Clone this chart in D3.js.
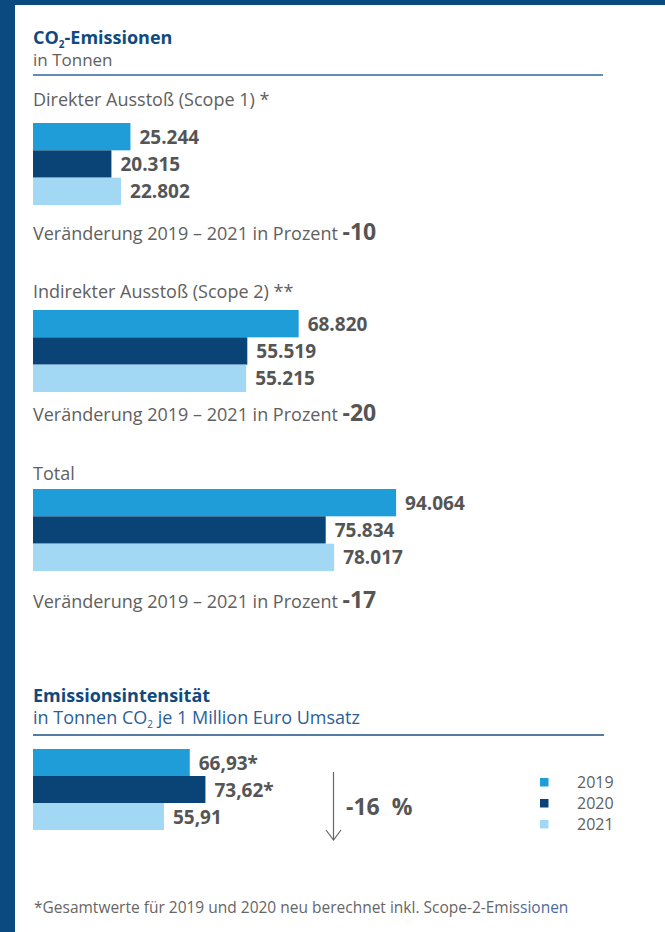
<!DOCTYPE html>
<html>
<head>
<meta charset="utf-8">
<script src="https://cdn.jsdelivr.net/npm/d3@7"></script>
<style>
  html, body { margin: 0; padding: 0; background: #fff; }
  svg { display: block; font-family: "Open Sans", "Noto Sans", sans-serif; }
  .head { font-size: 18px; fill: #606060; }
  .value { font-size: 19px; font-weight: 700; fill: #555; }
  .title { font-size: 18px; font-weight: 700; fill: #0f4a7e; }
</style>
</head>
<body>
<svg width="665" height="932"></svg>
<script>
// data
const years = ["2019", "2020", "2021"];
const colors = ["#1e9dd8", "#0a4477", "#a3d8f5"];
const groupNames = ["Direkter Ausstoß (Scope 1) *", "Indirekter Ausstoß (Scope 2) **", "Total"];
const scope1 = [25244, 20315, 22802];
const scope2 = [68820, 55519, 55215];
const total = [94064, 75834, 78017];
const changePct = [-10, -20, -17];
const intensity = [66.93, 73.62, 55.91];
const intensityMark = ["*", "*", ""];
const intensityChange = -16;

const svg = d3.select("svg"),
  width = +svg.attr("width"),
  height = +svg.attr("height"),
  left = 33;

const de = d3.formatLocale({ decimal: ",", thousands: ".", grouping: [3], currency: ["", " €"] });
const fmtInt = de.format(",d");
const fmtDec = de.format(",.2f");

// frame
svg.append("rect").attr("x", 0).attr("y", 0).attr("width", width).attr("height", 5).attr("fill", "#0b4a80");
svg.append("rect").attr("x", 0).attr("y", 0).attr("width", 15).attr("height", height).attr("fill", "#0b4a80");

// CO2 title
const t1 = svg.append("text").attr("class", "title").attr("x", left).attr("y", 44);
t1.append("tspan").text("CO");
t1.append("tspan").style("font-size", "10px").attr("dy", 4).text("2");
t1.append("tspan").attr("dy", -4).text("-Emissionen");

svg.append("text").attr("class", "head").attr("x", left).attr("y", 66).style("font-size", "17px").text("in Tonnen");

svg.append("line").attr("x1", left).attr("x2", 603).attr("y1", 75).attr("y2", 75)
  .attr("stroke", "#2f659c").attr("stroke-width", 1.5);

const x = d3.scaleLinear().domain([0, 100000]).range([left, left + 386]);

const groups = [
  { name: groupNames[0], values: scope1, change: changePct[0], headY: 106, top: 123, changeY: 240 },
  { name: groupNames[1], values: scope2, change: changePct[1], headY: 298, top: 310, changeY: 421 },
  { name: groupNames[2], values: total, change: changePct[2], headY: 480, top: 489, changeY: 608 }
];

groups.forEach(gr => {
  const y = d3.scaleBand().domain(years).range([gr.top, gr.top + 82]).padding(0);
  const rows = years.map((yr, i) => ({ year: yr, value: gr.values[i], color: colors[i] }));

  svg.append("text").attr("class", "head").attr("x", left).attr("y", gr.headY).text(gr.name);

  svg.selectAll(null).data(rows).join("rect")
    .attr("x", x(0))
    .attr("y", d => y(d.year))
    .attr("width", d => x(d.value) - x(0))
    .attr("height", y.bandwidth())
    .attr("fill", d => d.color);

  svg.selectAll(null).data(rows).join("text")
    .attr("class", "value")
    .attr("x", d => x(d.value) + 9)
    .attr("y", d => y(d.year) + y.bandwidth() / 2 + 7)
    .text(d => fmtInt(d.value));

  const ch = svg.append("text").attr("class", "head").attr("x", left).attr("y", gr.changeY);
  ch.append("tspan").text("Veränderung 2019 – 2021 in Prozent ");
  ch.append("tspan").style("font-weight", 700).style("font-size", "23px").style("fill", "#555").text(gr.change);
});

// Emissionsintensität
svg.append("text").attr("class", "title").attr("x", left).attr("y", 702).text("Emissionsintensität");
const sub = svg.append("text").attr("class", "head").attr("x", left).attr("y", 724).style("fill", "#2a5f97");
sub.append("tspan").text("in Tonnen CO");
sub.append("tspan").style("font-size", "10px").attr("dy", 4).text("2");
sub.append("tspan").attr("dy", -4).text(" je 1 Million Euro Umsatz");

svg.append("line").attr("x1", left).attr("x2", 604).attr("y1", 735).attr("y2", 735)
  .attr("stroke", "#1d4f82").attr("stroke-width", 1.5);

const xi = d3.scaleLinear().domain([0, 100]).range([left, left + 234.2]);
const yi = d3.scaleBand().domain(years).range([749, 830]).padding(0);
const irows = years.map((yr, i) => ({ year: yr, value: intensity[i], mark: intensityMark[i], color: colors[i] }));

svg.selectAll(null).data(irows).join("rect")
  .attr("x", xi(0))
  .attr("y", d => yi(d.year))
  .attr("width", d => xi(d.value) - xi(0))
  .attr("height", yi.bandwidth())
  .attr("fill", d => d.color);

svg.selectAll(null).data(irows).join("text")
  .attr("class", "value")
  .attr("x", d => xi(d.value) + 9)
  .attr("y", d => yi(d.year) + yi.bandwidth() / 2 + 7)
  .text(d => fmtDec(d.value) + d.mark);

// arrow + change
svg.append("line").attr("x1", 333.5).attr("x2", 333.5).attr("y1", 772).attr("y2", 840)
  .attr("stroke", "#666").attr("stroke-width", 1.2);
svg.append("path").attr("d", "M326,830 L333.5,840 L341,830")
  .attr("fill", "none").attr("stroke", "#666").attr("stroke-width", 1.2);
svg.append("text").attr("class", "value").style("font-size", "23px").attr("x", 346).attr("y", 815)
  .attr("xml:space", "preserve").style("white-space", "pre")
  .text(`${intensityChange}  %`);

// legend
const leg = svg.append("g").attr("transform", "translate(540,778)");
years.forEach((yr, i) => {
  leg.append("rect").attr("x", 0).attr("y", i * 21).attr("width", 8.5).attr("height", 8.5).attr("fill", colors[i]);
  leg.append("text").attr("x", 37).attr("y", i * 21 + 9.5).style("font-size", "16px").attr("fill", "#606060").text(yr);
});

// footnote
const fn = svg.append("text").attr("x", 34).attr("y", 913).style("font-size", "15.5px").attr("fill", "#666");
fn.append("tspan").text("*Gesamtwerte für 2019 und 2020 neu berechnet inkl. Scope-2-Emis");
fn.append("tspan").attr("fill", "#4b6b9c").text("sionen");
</script>
</body>
</html>
